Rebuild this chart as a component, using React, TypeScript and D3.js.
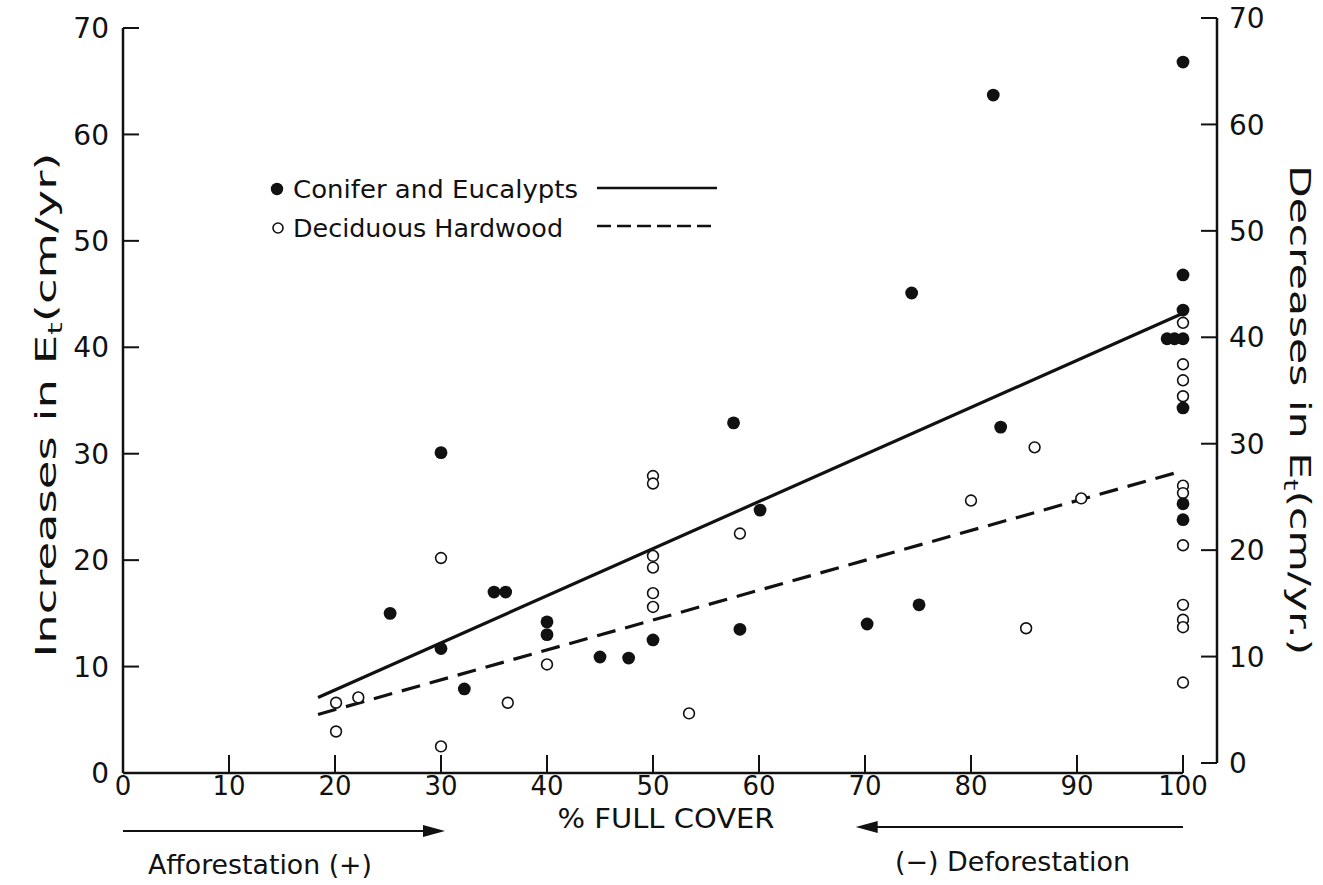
import React from "react";
import * as d3 from "d3";

// % full cover vs change in evapotranspiration (cm/yr)
const coniferCover = [25.2, 30, 30, 32.2, 35, 36.1, 40, 40, 45, 47.7, 50, 57.6, 58.2, 60.1, 70.2, 74.4, 75.1, 82.1, 82.8, 100, 100, 100, 98.5, 99.2, 100, 100, 100, 100];
const coniferET = [15.0, 30.1, 11.7, 7.9, 17.0, 17.0, 14.2, 13.0, 10.9, 10.8, 12.5, 32.9, 13.5, 24.7, 14.0, 45.1, 15.8, 63.7, 32.5, 66.8, 46.8, 43.5, 40.8, 40.8, 40.8, 34.3, 25.3, 23.8];

const hardwoodCover = [20.1, 20.1, 22.2, 30, 30, 36.3, 40, 50, 50, 50, 50, 50, 50, 53.4, 58.2, 80, 85.2, 86, 90.4, 100, 100, 100, 100, 100, 100, 100, 100, 100, 100, 100];
const hardwoodET = [6.6, 3.9, 7.1, 20.2, 2.5, 6.6, 10.2, 27.9, 27.2, 20.4, 19.3, 16.9, 15.6, 5.6, 22.5, 25.6, 13.6, 30.6, 25.8, 42.3, 38.4, 36.9, 35.4, 27.0, 26.3, 21.4, 15.8, 14.4, 13.7, 8.5];

// fitted lines (endpoints)
const fitCover = [18.4, 100];
const coniferFit = [7.1, 43.2];
const hardwoodFit = [5.5, 28.4];

const xTicks = [0, 10, 20, 30, 40, 50, 60, 70, 80, 90, 100];
const yTicks = [0, 10, 20, 30, 40, 50, 60, 70];

const FONT = "'DejaVu Sans', sans-serif";

export default function App() {
  const x = d3.scaleLinear().domain([0, 100]).range([123, 1183]);
  const y = d3.scaleLinear().domain([0, 70]).range([773, 28]);
  // right axis sits slightly higher in the original scan
  const yR = d3.scaleLinear().domain([0, 70]).range([763, 18]);
  const rightX = 1217;

  const line = d3.line<[number, number]>().x(d => x(d[0])).y(d => y(d[1]));
  const coniferLine = line(fitCover.map((c, i) => [c, coniferFit[i]] as [number, number]));
  const hardwoodLine = line(fitCover.map((c, i) => [c, hardwoodFit[i]] as [number, number]));

  const ink = "#111";

  return (
    <div style={{ position: "absolute", left: 0, top: 0 }}>
      <svg width={1323} height={885} style={{ display: "block", background: "#fff" }} fontFamily={FONT}>
        {/* left axis */}
        <line x1={x(0)} x2={x(0)} y1={y(70)} y2={y(0)} stroke={ink} strokeWidth={2.5} />
        {yTicks.map(t => (
          <g key={"yl" + t}>
            <line x1={x(0)} x2={x(0) + 16} y1={y(t)} y2={y(t)} stroke={ink} strokeWidth={2} />
            <text x={x(0) - 14} y={y(t)} dy="0.36em" textAnchor="end" fontSize={28} fill={ink}>{t}</text>
          </g>
        ))}

        {/* bottom axis */}
        <line x1={x(0)} x2={x(100)} y1={y(0)} y2={y(0)} stroke={ink} strokeWidth={2.5} />
        {xTicks.map(t => (
          <g key={"xb" + t}>
            <line x1={x(t)} x2={x(t)} y1={y(0)} y2={y(0) - 18} stroke={ink} strokeWidth={2} />
            <text x={x(t)} y={y(0) + 13} dy="0.36em" textAnchor="middle" fontSize={26} fill={ink}>{t}</text>
          </g>
        ))}

        {/* right axis */}
        <line x1={rightX} x2={rightX} y1={yR(70)} y2={yR(0)} stroke={ink} strokeWidth={2.5} />
        {yTicks.map(t => (
          <g key={"yr" + t}>
            <line x1={rightX} x2={rightX - 16} y1={yR(t)} y2={yR(t)} stroke={ink} strokeWidth={2} />
            <text x={rightX + 12} y={yR(t)} dy="0.36em" textAnchor="start" fontSize={28} fill={ink}>{t}</text>
          </g>
        ))}

        {/* fitted lines */}
        <path d={coniferLine || ""} fill="none" stroke={ink} strokeWidth={3.2} />
        <path d={hardwoodLine || ""} fill="none" stroke={ink} strokeWidth={3.2} strokeDasharray="19 10" />

        {/* data points */}
        {hardwoodCover.map((c, i) => (
          <circle key={"h" + i} cx={x(c)} cy={y(hardwoodET[i])} r={5.4} fill="#fff" stroke={ink} strokeWidth={1.6} />
        ))}
        {coniferCover.map((c, i) => (
          <circle key={"c" + i} cx={x(c)} cy={y(coniferET[i])} r={6.4} fill={ink} />
        ))}

        {/* legend */}
        <circle cx={277} cy={189} r={6.2} fill={ink} />
        <text x={293} y={189} dy="0.36em" fontSize={24} textLength={285} lengthAdjust="spacingAndGlyphs" fill={ink}>Conifer and Eucalypts</text>
        <line x1={597} x2={717} y1={188} y2={188} stroke={ink} strokeWidth={2.5} />
        <circle cx={278} cy={228} r={5} fill="#fff" stroke={ink} strokeWidth={1.6} />
        <text x={293} y={228} dy="0.36em" fontSize={24} textLength={270} lengthAdjust="spacingAndGlyphs" fill={ink}>Deciduous Hardwood</text>
        <line x1={597} x2={717} y1={226} y2={226} stroke={ink} strokeWidth={2.5} strokeDasharray="14 6" />

        {/* axis titles */}
        <text transform={`translate(46,405) rotate(-90)`} textAnchor="middle" dy="0.36em" fontSize={29} textLength={505} lengthAdjust="spacingAndGlyphs" fill={ink}>
          Increases in E<tspan fontSize={20} dy="6">t</tspan><tspan dy="-6">(cm/yr)</tspan>
        </text>
        <text transform={`translate(1300,410) rotate(90)`} textAnchor="middle" dy="0.36em" fontSize={29} textLength={490} lengthAdjust="spacingAndGlyphs" fill={ink}>
          Decreases in E<tspan fontSize={20} dy="6">t</tspan><tspan dy="-6">(cm/yr.)</tspan>
        </text>

        <text x={666} y={818} dy="0.36em" textAnchor="middle" fontSize={27} textLength={217} lengthAdjust="spacingAndGlyphs" fill={ink}>% FULL COVER</text>

        {/* direction arrows */}
        <line x1={x(0)} x2={x(30)} y1={831} y2={831} stroke={ink} strokeWidth={2} />
        <path d={`M${x(30) + 4},831 l-22,-6 l0,12 z`} fill={ink} />
        <text x={148} y={864} dy="0.36em" fontSize={27} textLength={224} lengthAdjust="spacingAndGlyphs" fill={ink}>Afforestation (+)</text>

        <line x1={x(100)} x2={x(69.5)} y1={827} y2={827} stroke={ink} strokeWidth={2} />
        <path d={`M${x(69.5) - 4},827 l22,-6 l0,12 z`} fill={ink} />
        <text x={895} y={861} dy="0.36em" fontSize={27} textLength={235} lengthAdjust="spacingAndGlyphs" fill={ink}>(−) Deforestation</text>
      </svg>
    </div>
  );
}
